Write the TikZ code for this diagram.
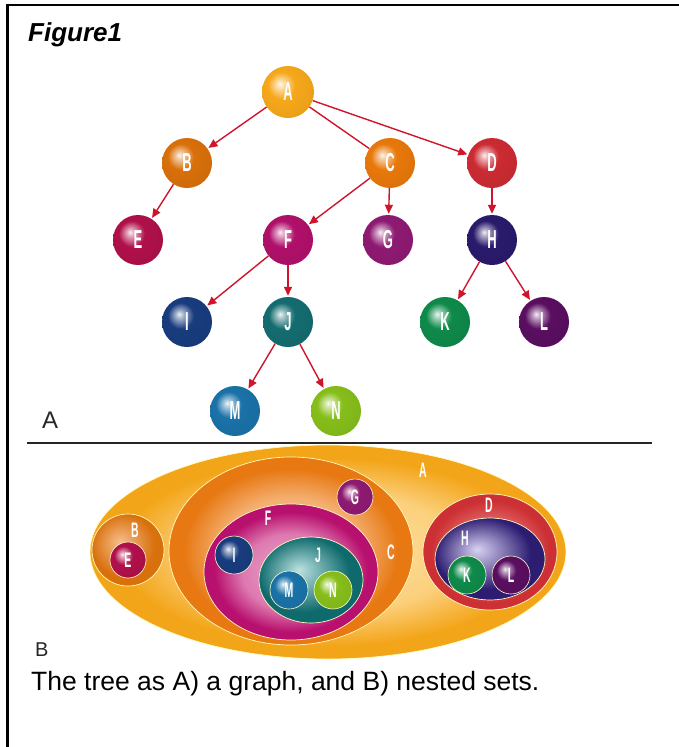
\documentclass[tikz,border=0pt]{standalone}
\usepackage{fontspec}
\setmainfont{Liberation Sans}
\usepackage{graphicx}
\usetikzlibrary{arrows.meta}
\definecolor{arrowred}{HTML}{D0142C}
\definecolor{cA}{HTML}{F6A81A}
\definecolor{cB}{HTML}{D9700A}
\definecolor{cC}{HTML}{E8780A}
\definecolor{cD}{HTML}{CC2B33}
\definecolor{cE}{HTML}{B0104A}
\definecolor{cF}{HTML}{B0106A}
\definecolor{cG}{HTML}{8E1A72}
\definecolor{cH}{HTML}{2A1A6C}
\definecolor{cI}{HTML}{183C7E}
\definecolor{cJ}{HTML}{146C70}
\definecolor{cK}{HTML}{0E8A4A}
\definecolor{cL}{HTML}{5A0E60}
\definecolor{cM}{HTML}{1A72A8}
\definecolor{cN}{HTML}{86BE1A}
\colorlet{sphc}{red}
\colorlet{setin}{white}
\colorlet{setout}{red}
\pgfdeclareradialshading[sphc]{sphere}{\pgfpoint{-8bp}{8bp}}{color(0bp)=(sphc!8!white); color(4bp)=(sphc!40!white); color(13bp)=(sphc); color(40bp)=(sphc!92!black); color(60bp)=(sphc!92!black)}
\pgfdeclareradialshading[setin,setout]{setc}{\pgfpoint{0bp}{0bp}}{color(0bp)=(setin); color(14bp)=(setin!70!setout); color(22bp)=(setout); color(50bp)=(setout)}
\pgfdeclareradialshading[setin,setout]{setoff}{\pgfpoint{-6bp}{6bp}}{color(0bp)=(setin); color(10bp)=(setin!55!setout); color(22bp)=(setout); color(50bp)=(setout)}
\newcommand\lt{\fontsize{26}{26}\selectfont\bfseries}
\newcommand\lts{\fontsize{21}{21}\selectfont\bfseries}
\newcommand\cl[1]{\scalebox{0.5}[1]{#1}}
\tikzset{
  sph/.code={\colorlet{sphc}{#1}},
  ball/.style={circle, inner sep=0pt, minimum size=#1, shading=sphere, text=white, font=\lt},
  ball/.default=50pt,
  sball/.style={circle, inner sep=0pt, minimum size=#1, shading=sphere, text=white, font=\lts, draw=white!80!yellow, line width=0.6pt},
  sball/.default=38pt,
  setcol/.code 2 args={\definecolor{setin}{HTML}{#1}\definecolor{setout}{HTML}{#2}},
  setbox/.style={draw=white!75!yellow, line width=0.7pt},
  setlab/.style={text=white, font=\lts, inner sep=0pt},
  conn/.style={draw=arrowred, line width=1.4pt, -{Triangle[length=9pt,width=8pt]}, shorten >=1pt},
  plain/.style={draw=arrowred, line width=1.4pt},
}
\begin{document}
\begin{tikzpicture}[x=1pt,y=-1pt]
\useasboundingbox (0,0) rectangle (679,747);
% frame
\draw[line width=2.5pt] (679,5) -- (7.5,5) -- (7.5,747);
\node[anchor=base west, font=\fontsize{26}{26}\selectfont\bfseries\itshape, inner sep=0pt] (title) at (28,41) {Figure1};
% tree
\node[ball=52pt, sph=cA] (A) at (288,92) {\cl{A}};
\node[ball, sph=cB] (B) at (187,163) {\cl{B}};
\node[ball, sph=cC] (C) at (390,163) {\cl{C}};
\node[ball, sph=cD] (D) at (492,163) {\cl{D}};
\node[ball, sph=cE] (E) at (138,240) {\cl{E}};
\node[ball, sph=cF] (F) at (288,240) {\cl{F}};
\node[ball, sph=cG] (G) at (388,240) {\cl{G}};
\node[ball, sph=cH] (H) at (492,240) {\cl{H}};
\node[ball, sph=cI] (I) at (187,322) {\cl{I}};
\node[ball, sph=cJ] (J) at (288,322) {\cl{J}};
\node[ball, sph=cK] (K) at (445,322) {\cl{K}};
\node[ball, sph=cL] (L) at (544,322) {\cl{L}};
\node[ball, sph=cM] (M) at (235,411) {\cl{M}};
\node[ball, sph=cN] (N) at (336,411) {\cl{N}};
\draw[conn] (A) -- (B);
\draw[plain] (A) -- (C);
\draw[conn] (A) -- (D);
\draw[conn] (B) -- (E);
\draw[conn] (C) -- (F);
\draw[conn] (C) -- (G);
\draw[conn] (D) -- (H);
\draw[conn] (F) -- (I);
\draw[conn] (F) -- (J);
\draw[conn] (H) -- (K);
\draw[conn] (H) -- (L);
\draw[conn] (J) -- (M);
\draw[conn] (J) -- (N);
\node[anchor=base west, font=\fontsize{24}{24}\selectfont, text=black!85, inner sep=0pt] (labA) at (42,428) {A};
% separator
\draw[line width=2pt, black!85] (27,443) -- (652,443);
% nested sets
\path[setbox, shading=setc, setcol={FFE2A6}{F3A519}] (328,552) ellipse (238 and 107);
\path[setbox, shading=setoff, setcol={F6BC88}{D8700C}] (128,550) circle (36);
\path[setbox, shading=setc, setcol={FAC79A}{E77812}] (291,551) ellipse (122 and 94);
\path[setbox, shading=setc, setcol={E87474}{CC3034}] (490,552) ellipse (67 and 58);
\path[setbox, shading=setc, setcol={EDA6CC}{B8106E}] (291,572) ellipse (87 and 68);
\path[setbox, shading=setoff, setcol={D8D2F2}{2C1C72}] (490,559) ellipse (55 and 41);
\path[setbox, shading=setoff, setcol={BCE2E2}{0E6A6C}] (311,580) ellipse (52 and 43);
\node[setlab] (lA) at (423,470) {\cl{A}};
\node[setlab] (lB) at (135,530) {\cl{B}};
\node[setlab] (lC) at (391,552) {\cl{C}};
\node[setlab] (lD) at (489,505) {\cl{D}};
\node[setlab] (lF) at (268,518) {\cl{F}};
\node[setlab] (lH) at (465,538) {\cl{H}};
\node[setlab] (lJ) at (318,555) {\cl{J}};
\node[sball=36pt, sph=cE] (sE) at (128,560) {\cl{E}};
\node[sball=36pt, sph=cG] (sG) at (355,497) {\cl{G}};
\node[sball, sph=cI] (sI) at (234,555) {\cl{I}};
\node[sball, sph=cM] (sM) at (289,590) {\cl{M}};
\node[sball, sph=cN] (sN) at (333,590) {\cl{N}};
\node[sball, sph=cK] (sK) at (467,575) {\cl{K}};
\node[sball, sph=cL] (sL) at (511,575) {\cl{L}};
\node[anchor=base west, font=\fontsize{20}{20}\selectfont, text=black!85, inner sep=0pt] (labB) at (35,656) {B};
\node[anchor=base west, font=\fontsize{26.5}{26.5}\selectfont, inner sep=0pt] (cap) at (31,690) {The tree as A) a graph, and B) nested sets.};
\end{tikzpicture}
\end{document}
